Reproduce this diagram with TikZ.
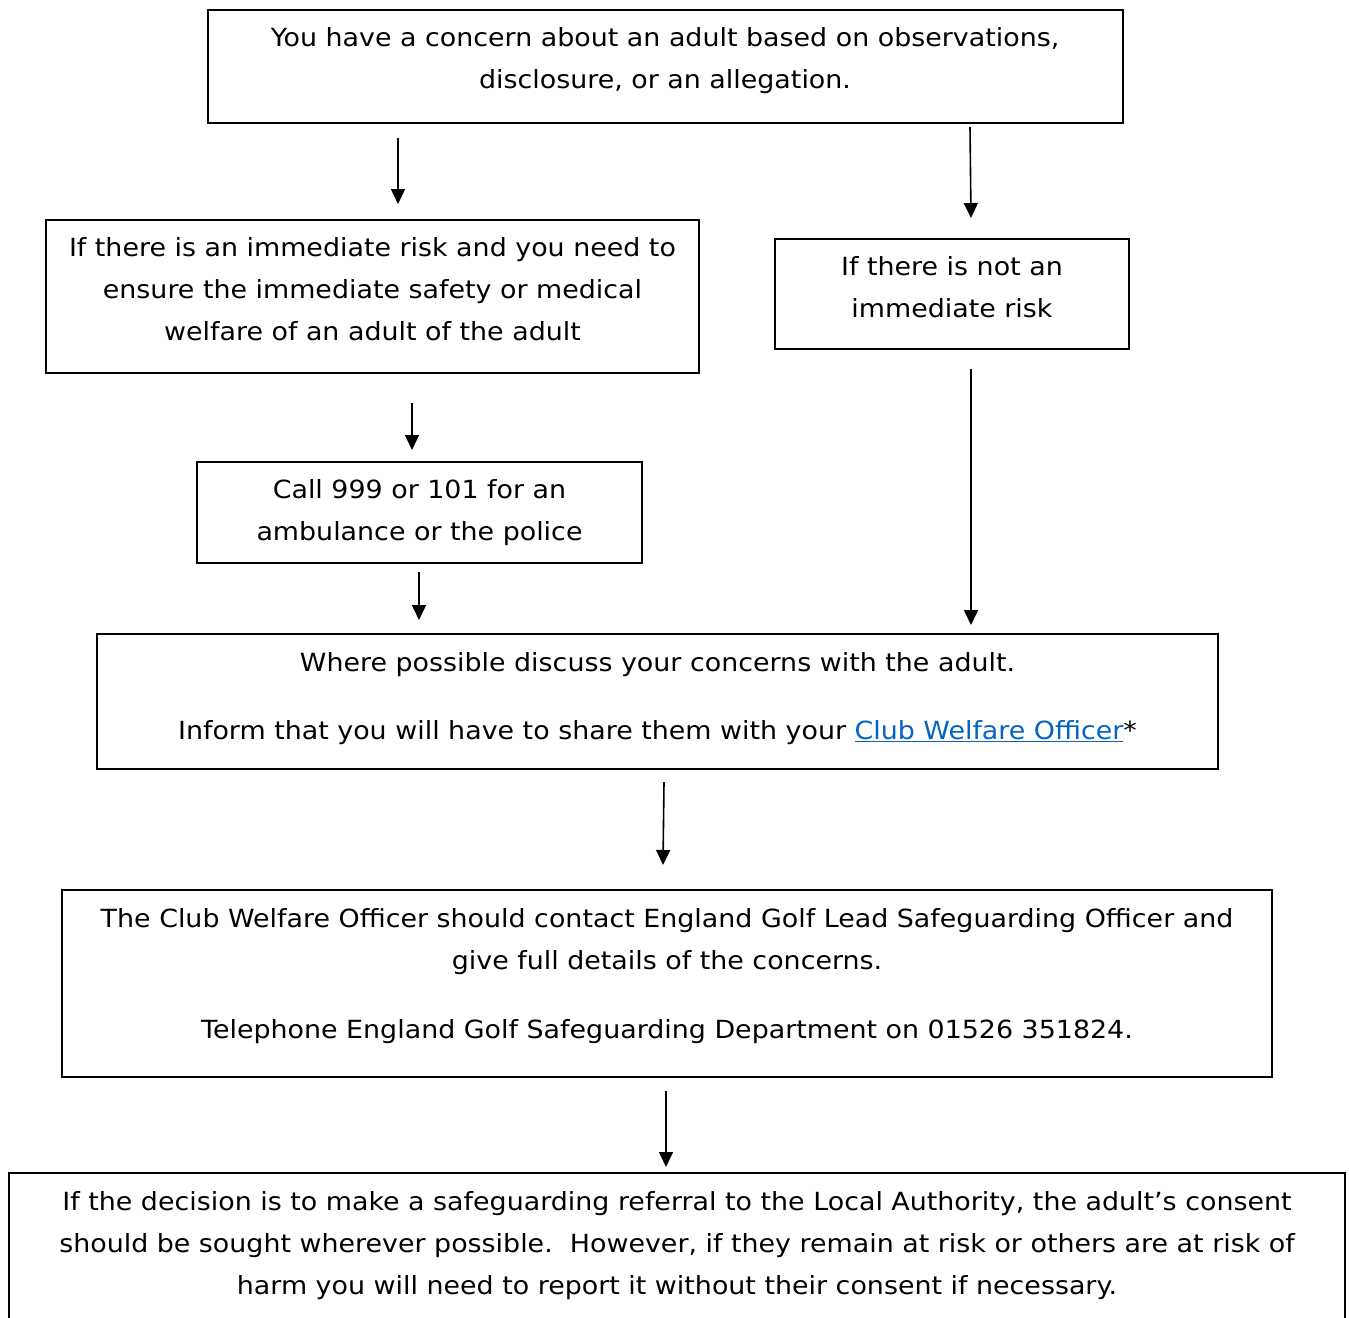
\documentclass[tikz,border=0pt]{standalone}
\usepackage{fontspec}
\setmainfont{DejaVu Sans}[FakeStretch=1.075]
\usetikzlibrary{arrows.meta}
\definecolor{linkblue}{RGB}{5,99,193}
\begin{document}
\begin{tikzpicture}[x=1pt,y=-1pt,
  box/.style={draw=black,line width=1.6pt,rectangle,inner sep=0pt},
  txt/.style={anchor=north,inner sep=0pt,align=center,font=\fontsize{25}{42}\selectfont},
  arr/.style={line width=1.6pt,-{Triangle[width=14pt,length=15pt]}}]
\useasboundingbox (0,0) rectangle (1349,1317);
% boxes
\node[box,minimum width=915,minimum height=113] (b1) at (665.5,66.5) {};
\node[box,minimum width=653,minimum height=153] (b2) at (372.5,296.5) {};
\node[box,minimum width=354,minimum height=110] (b3) at (952,294) {};
\node[box,minimum width=445,minimum height=101] (b4) at (419.5,512.5) {};
\node[box,minimum width=1121,minimum height=135] (b5) at (657.5,701.5) {};
\node[box,minimum width=1210,minimum height=187] (b6) at (667,983.5) {};
\draw[line width=1.6pt] (9,1330) coordinate (b7bl) -- (9,1173) coordinate (b7tl) -- (1345,1173) coordinate (b7tr) -- (1345,1330) coordinate (b7br);
% texts
\node[txt] (t1) at (665,27) {You have a concern about an adult based on observations,\\disclosure, or an allegation.};
\node[txt] (t2) at (372.5,237) {If there is an immediate risk and you need to\\ensure the immediate safety or medical\\welfare of an adult of the adult};
\node[txt] (t3) at (952,256) {If there is not an\\immediate risk};
\node[txt] (t4) at (419.5,479) {Call 999 or 101 for an\\ambulance or the police};
\node[txt] (t5) at (657.5,652) {Where possible discuss your concerns with the adult.\\[26pt]Inform that you will have to share them with your {\color{linkblue}\underline{Club Welfare Officer}}*};
\node[txt] (t6) at (667,908) {The Club Welfare Officer should contact England Golf Lead Safeguarding Officer and\\give full details of the concerns.\\[27pt]Telephone England Golf Safeguarding Department on 01526 351824.};
\node[txt] (t7) at (677,1191) {If the decision is to make a safeguarding referral to the Local Authority, the adult’s consent\\should be sought wherever possible.\ \ However, if they remain at risk or others are at risk of\\harm you will need to report it without their consent if necessary.};
% arrow endpoints
\coordinate (a1s) at (398,138); \coordinate (a1e) at (398,204);
\coordinate (a2s) at (970,127); \coordinate (a2e) at (971,218);
\coordinate (a3s) at (412,403); \coordinate (a3e) at (412,450);
\coordinate (a4s) at (419,572); \coordinate (a4e) at (419,620);
\coordinate (a5s) at (971,369); \coordinate (a5e) at (971,625);
\coordinate (a6s) at (664,782); \coordinate (a6e) at (663,865);
\coordinate (a7s) at (666,1091); \coordinate (a7e) at (666,1167);
\draw[arr] (a1s) -- (a1e);
\draw[arr] (a2s) -- (a2e);
\draw[arr] (a3s) -- (a3e);
\draw[arr] (a4s) -- (a4e);
\draw[arr] (a5s) -- (a5e);
\draw[arr] (a6s) -- (a6e);
\draw[arr] (a7s) -- (a7e);
\end{tikzpicture}
\end{document}
